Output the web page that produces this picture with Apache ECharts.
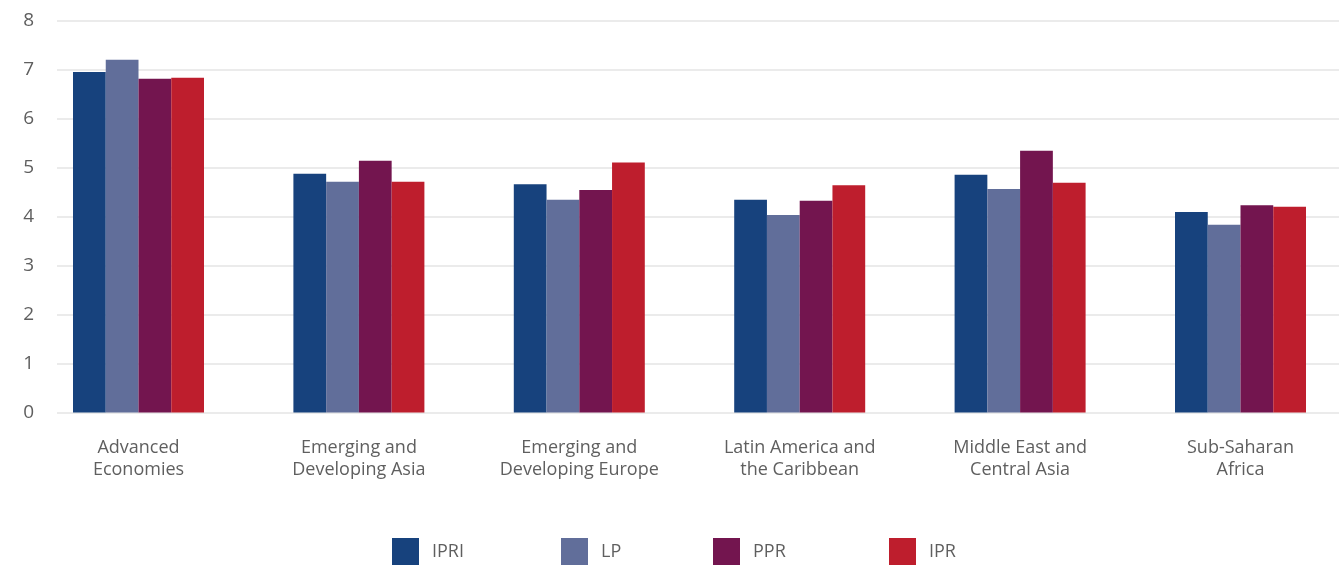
<!DOCTYPE html>
<html>
<head>
<meta charset="utf-8">
<script src="https://cdn.jsdelivr.net/npm/echarts@6/dist/echarts.min.js"></script>
<style>
  html, body { margin: 0; padding: 0; background: #ffffff; }
  #chart { width: 1339px; height: 567px; }
</style>
</head>
<body>
<div id="chart"></div>
<script>
// Regions shown along the category axis
const regions = [
  'Advanced\nEconomies',
  'Emerging and\nDeveloping Asia',
  'Emerging and\nDeveloping Europe',
  'Latin America and\nthe Caribbean',
  'Middle East and\nCentral Asia',
  'Sub-Saharan\nAfrica'
];

// Index scores per region
const ipri = [6.95, 4.87, 4.66, 4.34, 4.85, 4.09];
const lp   = [7.20, 4.71, 4.34, 4.03, 4.56, 3.83];
const ppr  = [6.81, 5.14, 4.54, 4.32, 5.34, 4.23];
const ipr  = [6.83, 4.71, 5.10, 4.64, 4.69, 4.20];

const seriesNames = ['IPRI', 'LP', 'PPR', 'IPR'];
const seriesData = [ipri, lp, ppr, ipr];
const colors = ['#17427D', '#616E9A', '#73154F', '#BE1E2D'];

const yMin = 0, yMax = 8, yStep = 1;

const FONT = '"Open Sans", Lato, sans-serif';
const TEXT = '#5f5f5f';

const plotTop = 20.5;
const plotHeight = 392;

const chart = echarts.init(document.getElementById('chart'), null, { renderer: 'canvas' });

const legendLefts = [392, 561, 713, 889];

chart.setOption({
  animation: false,
  color: colors,
  grid: [
    // value scale with labels and gridlines
    { left: 57, right: 0, top: plotTop, height: plotHeight },
    // bar groups: first and last region centres sit on the grid edges
    { left: 138.5, right: 98.5, top: plotTop, height: plotHeight }
  ],
  xAxis: [
    { gridIndex: 0, type: 'value', min: 0, max: 1, show: false },
    {
      gridIndex: 1,
      type: 'category',
      data: regions,
      boundaryGap: false,
      axisLine: { show: false },
      axisTick: { show: false },
      splitLine: { show: false },
      axisLabel: {
        interval: 0,
        margin: 24,
        color: TEXT,
        fontFamily: FONT,
        fontSize: 18,
        lineHeight: 22
      }
    }
  ],
  yAxis: [
    {
      gridIndex: 0,
      type: 'value',
      min: yMin,
      max: yMax,
      interval: yStep,
      axisLine: { show: false },
      axisTick: { show: false },
      axisLabel: {
        margin: 23,
        color: TEXT,
        fontFamily: FONT,
        fontSize: 19
      },
      splitLine: { lineStyle: { color: '#ebebeb', width: 2 } }
    },
    {
      gridIndex: 1,
      type: 'value',
      min: yMin,
      max: yMax,
      interval: yStep,
      show: false,
      splitLine: { show: false }
    }
  ],
  legend: seriesNames.map((name, i) => ({
    data: [name],
    left: legendLefts[i],
    top: 538,
    padding: 0,
    itemWidth: 27,
    itemHeight: 27,
    icon: 'rect',
    selectedMode: false,
    textStyle: {
      color: TEXT,
      fontFamily: FONT,
      fontSize: 18,
      padding: [0, 0, 0, 8]
    }
  })),
  series: seriesNames.map((name, i) => ({
    name: name,
    type: 'bar',
    xAxisIndex: 1,
    yAxisIndex: 1,
    data: seriesData[i],
    barWidth: 32.75,
    barGap: '0%',
    itemStyle: { color: colors[i] }
  }))
});
</script>
</body>
</html>
